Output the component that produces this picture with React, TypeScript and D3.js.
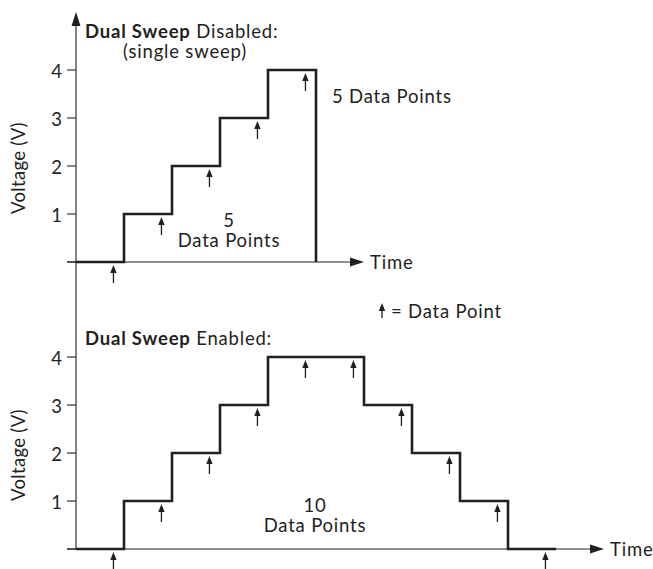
import React from "react";
import * as d3 from "d3";

const levelTicks = [0, 1, 2, 3, 4];
const singleSteps = [0, 1, 2, 3, 4];
const dualSteps = [0, 1, 2, 3, 4, 4, 3, 2, 1, 0];
const singlePoints = [0, 1, 2, 3, 4];
const dualPoints = [0, 1, 2, 3, 4, 4, 3, 2, 1, 0];

const INK = "#231f20";
const FONT = "Lato, 'Noto Sans', sans-serif";
const FS = 18.5;
const LS = 0.8;

const x = d3.scaleLinear().domain([0, 10]).range([76, 556]);
const yTop = d3.scaleLinear().domain([0, 4]).range([262, 70]);
const yBot = d3.scaleLinear().domain([0, 4]).range([549, 357]);

const SAMPLE_OFFSET = 0.78;

function stepPath(steps: number[], y: d3.ScaleLinear<number, number>, dropEnd: boolean) {
  const pts: [number, number][] = steps.map((v, i) => [i, v]);
  pts.push([steps.length, steps[steps.length - 1]]);
  if (dropEnd) pts.push([steps.length, 0]);
  const line = d3
    .line<[number, number]>()
    .x((d) => x(d[0]))
    .y((d) => y(d[1]))
    .curve(d3.curveStepAfter);
  return line(pts) || "";
}

function DataArrow({ cx, tipY, len = 18 }: { cx: number; tipY: number; len?: number }) {
  return (
    <g>
      <line x1={cx} x2={cx} y1={tipY + 5} y2={tipY + len} stroke={INK} strokeWidth={1.3} />
      <path d={`M${cx},${tipY} L${cx - 3.2},${tipY + 8} L${cx + 3.2},${tipY + 8} Z`} fill={INK} />
    </g>
  );
}

const textProps = { fontFamily: FONT, fontSize: FS, fill: INK, letterSpacing: LS };

function Panel({
  steps,
  points,
  y,
  dropEnd,
  axisEnd,
  titleY,
  titleRest,
  subtitle,
  countLabel,
  countX,
  countY,
}: {
  steps: number[];
  points: number[];
  y: d3.ScaleLinear<number, number>;
  dropEnd: boolean;
  axisEnd: number;
  titleY: number;
  titleRest: string;
  subtitle?: string;
  countLabel: string;
  countX: number;
  countY: number;
}) {
  const x0 = x(0);
  const y0 = y(0);
  const xEnd = x(axisEnd);
  return (
    <g>
      {/* baseline / time axis */}
      <line x1={x0 - 9} x2={xEnd - 10} y1={y0} y2={y0} stroke={INK} strokeWidth={1.1} />
      <path d={`M${xEnd},${y0} L${xEnd - 14},${y0 - 4.5} L${xEnd - 14},${y0 + 4.5} Z`} fill={INK} />
      <text x={xEnd + 6} y={y0 + 7} {...textProps}>
        Time
      </text>
      {/* y ticks */}
      {levelTicks.map((v) => (
        <g key={v}>
          <line x1={x0 - 9} x2={x0} y1={y(v)} y2={y(v)} stroke={INK} strokeWidth={1.1} />
          {v > 0 && (
            <text x={x0 - 14} y={y(v) + 7.5} textAnchor="end" {...textProps} letterSpacing={0}>
              {v}
            </text>
          )}
        </g>
      ))}
      <text
        transform={`translate(${25},${(y(0) + y(4)) / 2 + 2}) rotate(-90)`}
        textAnchor="middle"
        {...textProps}
        letterSpacing={0.3}
      >
        Voltage (V)
      </text>
      {/* staircase */}
      <path d={stepPath(steps, y, dropEnd)} fill="none" stroke={INK} strokeWidth={2.6} strokeLinejoin="miter" />
      {/* sample arrows */}
      {points.map((v, i) => (
        <DataArrow key={i} cx={x(i + SAMPLE_OFFSET)} tipY={y(v) + 3} />
      ))}
      {/* titles */}
      <text x={85} y={titleY} {...textProps}>
        <tspan fontWeight="bold">Dual Sweep</tspan>
        <tspan> {titleRest}</tspan>
      </text>
      {subtitle && (
        <text x={185} y={titleY + 20} textAnchor="middle" {...textProps}>
          {subtitle}
        </text>
      )}
      <text x={countX} y={countY} textAnchor="middle" {...textProps}>
        {countLabel}
      </text>
      <text x={countX} y={countY + 20} textAnchor="middle" {...textProps}>
        Data Points
      </text>
    </g>
  );
}

export default function App() {
  const axisX = x(0);
  return (
    <svg width={653} height={569} style={{ position: "absolute", left: 0, top: 0 }}>
      <rect width={653} height={569} fill="#fff" />
      {/* shared vertical axis */}
      <line x1={axisX} x2={axisX} y1={yTop(5.05)} y2={yBot(0)} stroke={INK} strokeWidth={1.1} />
      <path
        d={`M${axisX},${yTop(5.21)} L${axisX - 4.5},${yTop(5.21) + 14} L${axisX + 4.5},${yTop(5.21) + 14} Z`}
        fill={INK}
      />
      <Panel
        steps={singleSteps}
        points={singlePoints}
        y={yTop}
        dropEnd={true}
        axisEnd={6}
        titleY={38}
        titleRest="Disabled:"
        subtitle="(single sweep)"
        countLabel="5"
        countX={229}
        countY={227}
      />
      <Panel
        steps={dualSteps}
        points={dualPoints}
        y={yBot}
        dropEnd={false}
        axisEnd={11}
        titleY={345}
        titleRest="Enabled:"
        countLabel="10"
        countX={315}
        countY={512}
      />
      <text x={332} y={103} {...textProps}>
        5 Data Points
      </text>
      <DataArrow cx={382} tipY={303} len={15} />
      <text x={391} y={318} {...textProps}>
        = Data Point
      </text>
    </svg>
  );
}
